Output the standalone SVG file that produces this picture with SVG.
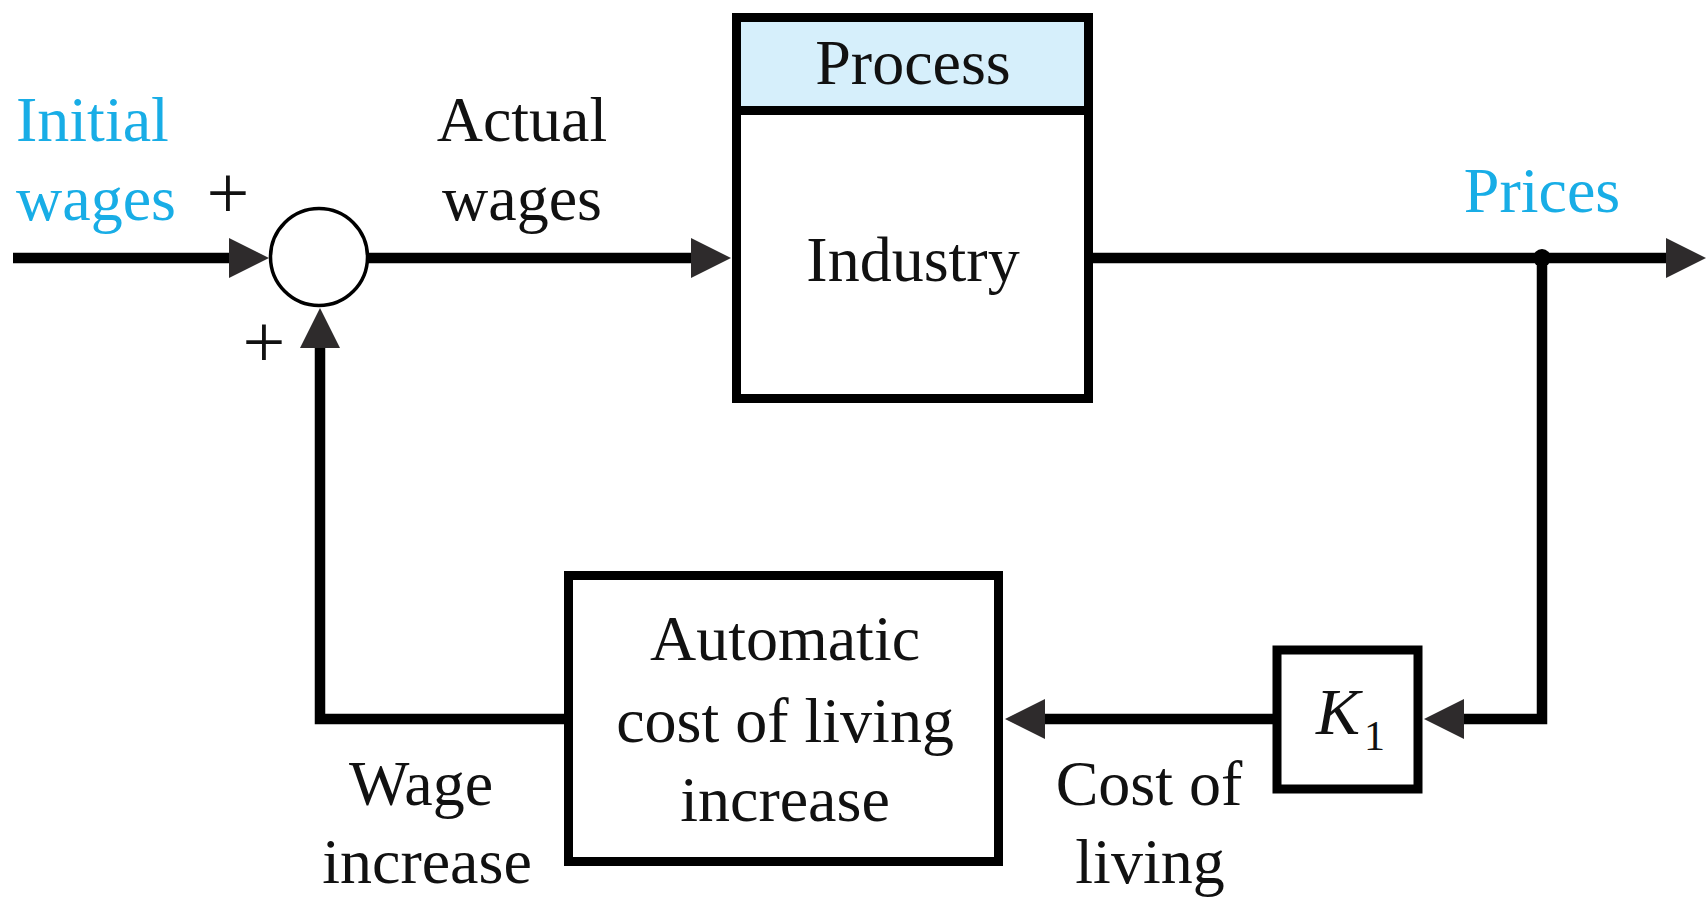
<svg xmlns="http://www.w3.org/2000/svg" width="1706" height="898" viewBox="0 0 1706 898">
<style>
.blue{fill:#18ADE6}
.mid{text-anchor:middle}
.box{fill:#fff;stroke:#000;stroke-width:9}
.conn{fill:none;stroke:#000;stroke-width:10.5;stroke-linejoin:miter}
.plus{font-size:76px}
</style>
<defs>
<marker id="ah" markerUnits="userSpaceOnUse" viewBox="0 -20 40 40" markerWidth="40" markerHeight="40" refX="1" refY="0" orient="auto">
<path d="M0,-20 L40,0 L0,20 Z" fill="#2e2b2c"/>
</marker>
</defs>
<g id="connectors">
<path class="conn" d="M13,258 H230" marker-end="url(#ah)"/>
<path class="conn" d="M368,258 H692" marker-end="url(#ah)"/>
<path class="conn" d="M1093,258 H1667" marker-end="url(#ah)"/>
<path class="conn" d="M1542,258 V719 H1463" marker-end="url(#ah)"/>
<path class="conn" d="M1273,719 H1044" marker-end="url(#ah)"/>
<path class="conn" d="M564,719 H320 V347" marker-end="url(#ah)"/>
<circle cx="1542" cy="258" r="9" fill="#000"/>
</g>
<g font-family="Liberation Serif, DejaVu Serif, serif" font-size="64" fill="#111">
<g id="sum">
<circle cx="319" cy="257" r="48.5" fill="#fff" stroke="#000" stroke-width="3.5"/>
<text x="228" y="218" class="mid plus">+</text>
<text x="264" y="367" class="mid plus">+</text>
</g>
<g id="process">
<rect class="box" x="736.5" y="17.5" width="352" height="381"/>
<rect x="741" y="22" width="343" height="88" fill="#D6EFFB"/>
<line x1="736.5" y1="110.5" x2="1088.5" y2="110.5" stroke="#000" stroke-width="9"/>
<text x="913" y="84" class="mid">Process</text>
<text x="913" y="281" class="mid">Industry</text>
</g>
<g id="k1">
<rect class="box" x="1277" y="650" width="141" height="139" stroke-width="8"/>
<text x="1316" y="734" font-style="italic" font-size="66">K</text>
<text x="1364" y="750" font-size="42">1</text>
</g>
<g id="automatic">
<rect class="box" x="568.5" y="575.5" width="430" height="286"/>
<text x="785" y="660" class="mid">Automatic</text>
<text x="785" y="742" class="mid">cost of living</text>
<text x="785" y="821" class="mid">increase</text>
</g>
<g id="labels">
<text x="16" y="141" class="blue">Initial</text>
<text x="16" y="220" class="blue">wages</text>
<text x="522" y="141" class="mid">Actual</text>
<text x="522" y="220" class="mid">wages</text>
<text x="1542" y="212" class="mid blue">Prices</text>
<text x="421" y="805" class="mid">Wage</text>
<text x="427" y="883" class="mid">increase</text>
<text x="1149" y="805" class="mid">Cost of</text>
<text x="1150" y="883" class="mid">living</text>
</g>
</g>
</svg>
